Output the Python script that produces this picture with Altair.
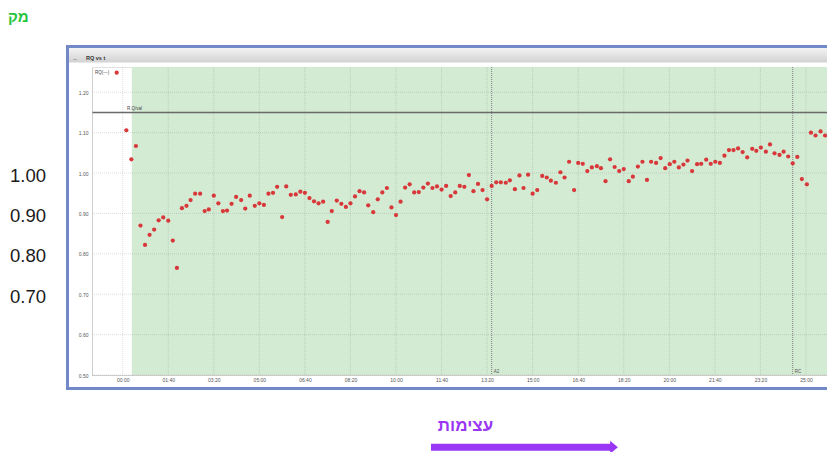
import altair as alt
import pandas as pd

# ---- data ----
t_min = [8, 19, 29, 39, 49, 59, 69, 79, 89, 100,
         110, 119, 130, 140, 149, 159, 170, 180, 189, 200,
         210, 220, 229, 239, 249, 260, 269, 279, 290, 300,
         310, 320, 330, 339, 350, 359, 369, 380, 390, 400,
         410, 420, 430, 440, 450, 459, 470, 480, 490, 500,
         510, 520, 530, 539, 550, 560, 570, 580, 590, 600,
         610, 620, 630, 640, 650, 660, 670, 680, 690, 700,
         710, 720, 730, 740, 750, 760, 770, 780, 790, 800,
         810, 820, 830, 841, 850, 861, 871, 880, 890, 900,
         910, 921, 931, 940, 951, 961, 970, 980, 991, 1000,
         1010, 1020, 1030, 1041, 1050, 1060, 1070, 1080, 1090, 1100,
         1111, 1120, 1131, 1141, 1151, 1160, 1171, 1181, 1191, 1201,
         1211, 1221, 1231, 1240, 1250, 1261, 1270, 1281, 1291, 1301,
         1311, 1321, 1331, 1341, 1351, 1361, 1371, 1382, 1391, 1401,
         1412, 1421, 1431, 1442, 1451, 1461, 1471, 1481, 1491, 1502,
         1511, 1521, 1532, 1542, 1551, 1562]
rq = [1.106, 1.034, 1.067, 0.870, 0.822, 0.847, 0.860, 0.883, 0.890, 0.882,
      0.833, 0.765, 0.913, 0.919, 0.933, 0.949, 0.949, 0.906, 0.910, 0.944,
      0.925, 0.906, 0.907, 0.924, 0.941, 0.933, 0.912, 0.944, 0.919, 0.925,
      0.921, 0.949, 0.951, 0.966, 0.891, 0.967, 0.946, 0.947, 0.954, 0.951,
      0.938, 0.930, 0.925, 0.929, 0.879, 0.906, 0.932, 0.924, 0.916, 0.925,
      0.942, 0.955, 0.952, 0.920, 0.903, 0.935, 0.952, 0.963, 0.915, 0.896,
      0.929, 0.964, 0.972, 0.952, 0.953, 0.964, 0.974, 0.963, 0.967, 0.959,
      0.968, 0.943, 0.952, 0.968, 0.966, 0.995, 0.955, 0.973, 0.958, 0.935,
      0.968, 0.977, 0.977, 0.976, 0.982, 0.960, 0.994, 0.963, 0.996, 0.949,
      0.958, 0.993, 0.989, 0.981, 0.976, 1.002, 0.989, 1.028, 0.958, 1.025,
      1.023, 1.005, 1.014, 1.017, 1.012, 0.980, 1.034, 1.015, 1.005, 1.010,
      0.980, 0.991, 1.016, 1.028, 0.983, 1.028, 1.025, 1.037, 1.012, 1.022,
      1.028, 1.014, 1.021, 1.031, 1.005, 1.022, 1.023, 1.033, 1.023, 1.028,
      1.025, 1.043, 1.057, 1.057, 1.061, 1.052, 1.039, 1.060, 1.055, 1.063,
      1.053, 1.071, 1.049, 1.045, 1.053, 1.041, 1.024, 1.040, 0.985, 0.972,
      1.100, 1.093, 1.103, 1.093, 1.089, 1.096]

x_tick_vals = [0, 100, 200, 300, 400, 500, 600, 700, 800, 900, 1000, 1100, 1200, 1300, 1400, 1500]
x_tick_labels = ["00:00", "01:40", "03:20", "05:00", "06:40", "08:20", "10:00", "11:40",
                 "13:20", "15:00", "16:40", "18:20", "20:00", "21:40", "23:20", "25:00"]
y_tick_vals = [0.5, 0.6, 0.7, 0.8, 0.9, 1.0, 1.1, 1.2]

green_start = [20]          # start of the shaded phase (min)
green_end = [1700]
ref_line = [1.15]
ref_line_label = ["R.Q/val"]
event_t = [810, 1471]
event_labels = ["A2", "RC"]
slide_vals = [1.00, 0.90, 0.80, 0.70]
slide_labels = ["1.00", "0.90", "0.80", "0.70"]

pts = pd.DataFrame({"t": t_min, "rq": rq})
one = pd.DataFrame({"k": [0]})

W, H = 735, 308
FONT = "Liberation Sans"
xs = alt.Scale(domain=[-67.4, 1546.2], nice=False, zero=False)
ys = alt.Scale(domain=[0.5, 1.2626], nice=False, zero=False)

lab_expr = " : ".join(f"datum.value == {v} ? '{l}'" for v, l in zip(x_tick_vals, x_tick_labels)) + " : ''"
x_axis = alt.Axis(values=x_tick_vals, labelExpr=lab_expr, title=None, grid=False, ticks=False,
                  labelFontSize=5, labelColor="#555555", labelFont=FONT, labelPadding=2.5,
                  labelOverlap=False, domainColor="#bdbdbd", domainDash=[1, 1], zindex=1)
y_axis = alt.Axis(values=y_tick_vals, format=".2f", title=None, grid=False, ticks=False,
                  labelFontSize=5, labelColor="#555555", labelFont=FONT, labelPadding=4,
                  labelOverlap=False, domainColor="#bdbdbd", domainDash=[1, 1], zindex=1)

X = lambda f: alt.X(f, type="quantitative", scale=xs, axis=x_axis)
Y = lambda f: alt.Y(f, type="quantitative", scale=ys, axis=y_axis)

# window frame of the screenshot
frame = alt.Chart(one).mark_rect(fillOpacity=0, stroke="#7189c6", strokeWidth=3).encode(
    x=alt.value(-24.5), x2=alt.value(780), y=alt.value(-20.5), y2=alt.value(321.5))
titlebar = alt.Chart(one).mark_rect(
    fill=alt.Gradient(gradient="linear",
                      stops=[alt.GradientStop(color="#f3f3f3", offset=0),
                             alt.GradientStop(color="#d2d2d2", offset=1)],
                      x1=0, x2=0, y1=0, y2=1)).encode(
    x=alt.value(-23), x2=alt.value(780), y=alt.value(-19), y2=alt.value(-4.5))
title_txt = alt.Chart(one).mark_text(text="RQ vs t", font=FONT, fontSize=5.5, fontWeight="bold",
                                     color="#333333", align="left", baseline="middle").encode(
    x=alt.value(-6), y=alt.value(-9.5))
title_icon = alt.Chart(one).mark_text(text="_", font=FONT, fontSize=6, color="#555555",
                                      align="center", baseline="middle").encode(
    x=alt.value(-17), y=alt.value(-10))

green = alt.Chart(pd.DataFrame({"s": green_start, "e": green_end})).mark_rect(color="#d3ead3").encode(
    x=X("s"), x2="e", y=alt.value(0), y2=alt.value(H))

grid_x = alt.Chart(pd.DataFrame({"v": x_tick_vals})).mark_rule(
    color="#7a7a7a", opacity=0.25, strokeWidth=1, strokeDash=[1, 1]).encode(x=X("v"))
grid_y = alt.Chart(pd.DataFrame({"v": y_tick_vals})).mark_rule(
    color="#7a7a7a", opacity=0.25, strokeWidth=1, strokeDash=[1, 1]).encode(y=Y("v"))

hline = alt.Chart(pd.DataFrame({"v": ref_line})).mark_rule(color="#6a6a6a", strokeWidth=1.3).encode(y=Y("v"))
hline_lab = alt.Chart(pd.DataFrame({"v": ref_line, "l": ref_line_label})).mark_text(
    font=FONT, fontSize=4.5, color="#444444", align="left", baseline="bottom", dy=-1).encode(
    x=alt.value(35), y=Y("v"), text="l:N")

vlines = alt.Chart(pd.DataFrame({"v": event_t})).mark_rule(
    color="#7d7d7d", strokeWidth=1, strokeDash=[1, 1]).encode(x=X("v"))
vlab = alt.Chart(pd.DataFrame({"v": event_t, "l": event_labels})).mark_text(
    font=FONT, fontSize=4.5, color="#555555", align="left", baseline="middle", dx=2).encode(
    x=X("v"), y=alt.value(305), text="l:N")

points = alt.Chart(pts).mark_circle(size=18, color="#d8383a", opacity=1).encode(
    x=X("t"), y=Y("rq"))

leg_txt = alt.Chart(one).mark_text(text="RQ(---)", font=FONT, fontSize=4.5, color="#444444",
                                   align="left", baseline="middle").encode(
    x=alt.value(3), y=alt.value(5.5))
leg_pt = alt.Chart(one).mark_circle(size=18, color="#d8383a", opacity=1).encode(
    x=alt.value(24.7), y=alt.value(5.7))

# slide annotations
slide_y = alt.Chart(pd.DataFrame({"v": slide_vals, "l": slide_labels})).mark_text(
    font=FONT, fontSize=18.5, color="#1a1a1a", align="right", baseline="middle", dy=2.5).encode(
    x=alt.value(-46), y=Y("v"), text="l:N")
corner = alt.Chart(one).mark_text(text="מק", font=FONT, fontSize=15, fontWeight="bold",
                                  color="#24c43c", align="left", baseline="middle").encode(
    x=alt.value(-84), y=alt.value(-50))
arrow_txt = alt.Chart(one).mark_text(text="עצימות", font=FONT, fontSize=17, fontWeight="bold",
                                     color="#9a37f4", align="center", baseline="middle").encode(
    x=alt.value(373.5), y=alt.value(359))
arrow_shaft = alt.Chart(one).mark_rule(color="#9a37f4", strokeWidth=7).encode(
    x=alt.value(339), x2=alt.value(519), y=alt.value(380.3))
arrow_head = alt.Chart(one).mark_point(shape="M -0.6 -1 L 0.6 0 L -0.6 1 Z", filled=True,
                                       size=169, color="#9a37f4", opacity=1).encode(
    x=alt.value(522), y=alt.value(380.3))

chart = alt.layer(
    frame, titlebar, title_txt, title_icon, green, grid_x, grid_y, hline, vlines, vlab,
    hline_lab, points, leg_txt, leg_pt, slide_y, corner, arrow_txt, arrow_shaft, arrow_head
).properties(
    width=W, height=H,
    padding={"left": 84, "top": 59, "right": 0, "bottom": 77},
    autosize=alt.AutoSizeParams(type="none"),
    background="white",
).configure_view(stroke="#c4c4c4", strokeDash=[1, 1])

chart.save("out.html", embed_options={"renderer": "svg", "actions": False})
